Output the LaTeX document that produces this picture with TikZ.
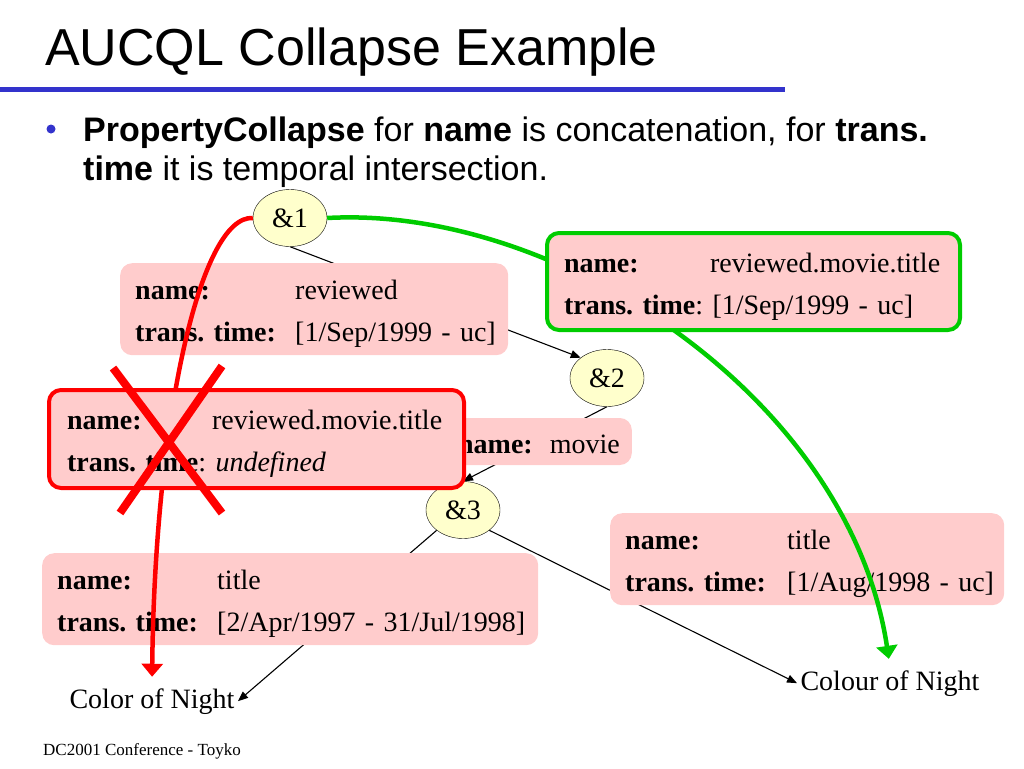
\documentclass[tikz,border=0pt]{standalone}
\usepackage{fontspec}
\setmainfont{Liberation Serif}
\newfontfamily\arialfont{Liberation Sans}
\usetikzlibrary{positioning,arrows.meta,shapes.geometric,backgrounds}
\definecolor{pinkfill}{RGB}{255,204,204}
\definecolor{ampfill}{RGB}{255,255,204}
\definecolor{ruleblue}{RGB}{51,51,204}
\definecolor{okgreen}{RGB}{0,204,0}

\begin{document}
\begin{tikzpicture}[
    x=1pt, y=-1pt,
    amp/.style={draw, ellipse, fill=ampfill, minimum width=74pt, minimum height=57pt, inner sep=0pt, font=\fontsize{28}{34}\selectfont},
    rec/.style={fill=pinkfill, rounded corners=12pt, anchor=north west, inner xsep=15pt, inner ysep=0pt, align=left, font=\fontsize{28}{42}\selectfont\frenchspacing,
        execute at begin node=\rule{0pt}{29pt}, execute at end node=\rule[-6pt]{0pt}{6pt}},
    lbl/.style={anchor=base, font=\fontsize{28}{34}\selectfont},
    edge/.style={-{Triangle[length=10pt,width=8pt]}, line width=1.1pt},
    pick/.style={-{Triangle[length=13pt,width=21pt]}, line width=4.5pt, shorten >=8pt},
]
\useasboundingbox (0,0) rectangle (1024,768);

% heading
\node[anchor=base west, inner sep=0pt, font=\arialfont\fontsize{52}{60}\selectfont] (title) at (45,66) {AUCQL Collapse Example};
\draw[ruleblue, line width=5pt] (0,89) -- (785,89);
\fill[ruleblue] (51,129) circle (4.5pt);
\node[anchor=base west, inner sep=0pt, font=\arialfont\fontsize{34}{40}\selectfont] (intro1) at (83,141)
    {\textbf{PropertyCollapse} for \textbf{name} is concatenation, for \textbf{trans.}};
\node[anchor=base west, inner sep=0pt, font=\arialfont\fontsize{34}{40}\selectfont] (intro2) at (83,180)
    {\textbf{time} it is temporal intersection.};

% tree
\node[amp] (n1) at (290,218) {\&1};
\node[amp] (n2) at (607,378) {\&2};
\node[amp] (n3) at (463,510) {\&3};

\node[rec, minimum width=388pt, minimum height=92pt, text width=358pt] (b1) at (120,263)
    {\mbox{\makebox[160pt][l]{\textbf{name:}}reviewed}\\
     \mbox{\makebox[160pt][l]{\textbf{trans. time:}}[1/Sep/1999 - uc]}};
\node[rec, anchor=east, inner xsep=12pt, minimum height=47pt] (bm) at (632,441.5)
    {\textbf{name:}\hspace{17pt}movie};
\node[rec, minimum width=496pt, minimum height=92pt, text width=466pt] (bl) at (42,553)
    {\mbox{\makebox[160pt][l]{\textbf{name:}}title}\\
     \mbox{\makebox[160pt][l]{\textbf{trans. time:}}[2/Apr/1997 - 31/Jul/1998]}};
\node[rec, minimum width=394pt, minimum height=92pt, text width=364pt] (br) at (610,513)
    {\mbox{\makebox[162pt][l]{\textbf{name:}}title}\\
     \mbox{\makebox[162pt][l]{\textbf{trans. time:}}[1/Aug/1998 - uc]}};

\node[lbl] (cn1) at (152,708) {Color of Night};
\node[lbl] (cn2) at (890,690) {Colour of Night};

\begin{pgfonlayer}{background}
\draw[edge] (n1.south) -- (n2.north west);
\draw[edge] (n2.south) -- (n3.north);
\draw[edge] (n3.south west) -- (cn1.east);
\draw[edge] (n3.south east) -- (cn2.west);
\end{pgfonlayer}

% collapse paths
\draw[pick, red] (n1.west) .. controls (200,215) and (155,420) .. (cn1.north);
\draw[pick, okgreen] (n1.east) .. controls (560,205) and (850,400) .. (cn2.north);

\node[rec, draw=okgreen, line width=4pt, inner xsep=17pt, minimum width=413pt, minimum height=97pt, text width=379pt] (bg) at (545,231)
    {\mbox{\makebox[146pt][l]{\textbf{name:}}reviewed.movie.title}\\
     \mbox{\textbf{trans. time}: [1/Sep/1999 - uc]}};
\node[rec, draw=red, line width=4pt, inner xsep=18pt, minimum width=415pt, minimum height=98pt, text width=379pt] (bx) at (47,388)
    {\mbox{\makebox[145pt][l]{\textbf{name:}}reviewed.movie.title}\\
     \mbox{\textbf{trans. time}: \textit{undefined}}};
\draw[red, line width=8pt] (120,513) -- (222,366) (113,368) -- (222,513);

\node[anchor=base west, inner sep=0pt, font=\fontsize{17}{20}\selectfont] (foot) at (43,755) {DC2001 Conference - Toyko};
\end{tikzpicture}
\end{document}
